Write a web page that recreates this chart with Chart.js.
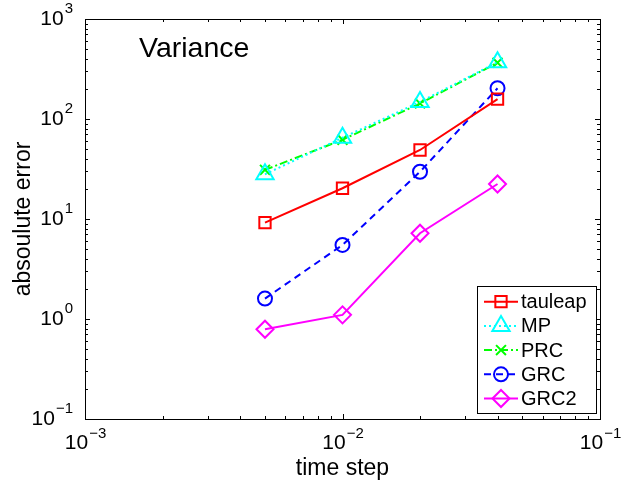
<!DOCTYPE html>
<html>
<head>
<meta charset="utf-8">
<script src="https://cdn.jsdelivr.net/npm/chart.js@4"></script>
<style>
  body { margin: 0; background: #fff; }
  canvas { display: block; }
</style>
</head>
<body>
<canvas id="chart" width="621" height="483"></canvas>
<script>
// dữ liệu
const timeSteps = [0.005, 0.01, 0.02, 0.04];
const tauleap = [9.2, 20.3, 49, 158];
const mp = [28, 65, 148, 370];
const prc = [31, 62, 143, 366];
const grc = [1.6, 5.5, 29.7, 203];
const grc2 = [0.79, 1.1, 7.2, 22.4];

const xTickExp = [-3, -2, -1];
const yTickExp = [-1, 0, 1, 2, 3];

const font = '"Liberation Sans", Arial, Helvetica, sans-serif';

function points(values) {
    return timeSteps.map((t, i) => ({ x: t, y: values[i] }));
}

function series(label, values, color, dash, marker, radius) {
    return {
        label: label,
        data: points(values),
        borderColor: color,
        backgroundColor: 'rgba(0,0,0,0)',
        borderWidth: 2,
        borderDash: dash,
        pointStyle: marker,
        pointRadius: radius,
        pointHoverRadius: radius,
        pointBorderColor: color,
        pointBorderWidth: 2,
        showLine: true,
        tension: 0
    };
}

const datasets = [
    series('tauleap', tauleap, '#ff0000', [], 'rect', 8),
    series('MP', mp, '#00ffff', [2, 3], 'triangle', 10),
    series('PRC', prc, '#00ff00', [8, 3, 2, 3], 'crossRot', 7),
    series('GRC', grc, '#0000ff', [7, 5], 'circle', 7),
    series('GRC2', grc2, '#ff00ff', [], 'rectRot', 8.5)
];

function drawPow(ctx, exp, x, y, align) {
    const e = exp < 0 ? '\u2212' + (-exp) : String(exp);
    ctx.font = '21px ' + font;
    const wb = ctx.measureText('10').width;
    ctx.font = '15px ' + font;
    const we = ctx.measureText(e).width;
    let start = align === 'center' ? x - (wb + we) / 2 : x - wb - we;
    ctx.textBaseline = 'middle';
    ctx.textAlign = 'left';
    ctx.font = '21px ' + font;
    ctx.fillText('10', start, y);
    ctx.font = '15px ' + font;
    ctx.fillText(e, start + wb + 1, y - 10);
}

const axesPlugin = {
    id: 'matlabAxes',
    afterDraw(chart) {
        const ctx = chart.ctx;
        const a = chart.chartArea;
        const xs = chart.scales.x;
        const ys = chart.scales.y;
        ctx.save();
        ctx.strokeStyle = '#000';
        ctx.fillStyle = '#000';
        ctx.lineWidth = 1;
        ctx.setLineDash([]);
        ctx.strokeRect(a.left + 0.5, a.top + 0.5, a.right - a.left, a.bottom - a.top);

        // vạch chia
        ctx.beginPath();
        for (let d = -3; d <= -1; d++) {
            for (let m = 1; m <= 9; m++) {
                const v = m * Math.pow(10, d);
                if (v > 0.1 + 1e-9) continue;
                const px = Math.round(xs.getPixelForValue(v)) + 0.5;
                const len = m === 1 ? 5 : 3;
                ctx.moveTo(px, a.bottom);
                ctx.lineTo(px, a.bottom - len);
                ctx.moveTo(px, a.top);
                ctx.lineTo(px, a.top + len);
            }
        }
        for (let d = -1; d <= 3; d++) {
            for (let m = 1; m <= 9; m++) {
                const v = m * Math.pow(10, d);
                if (v > 1000 + 1e-9) continue;
                const py = Math.round(ys.getPixelForValue(v)) + 0.5;
                const len = m === 1 ? 5 : 3;
                ctx.moveTo(a.left, py);
                ctx.lineTo(a.left + len, py);
                ctx.moveTo(a.right, py);
                ctx.lineTo(a.right - len, py);
            }
        }
        ctx.stroke();

        // nhãn trục
        xTickExp.forEach((e) => {
            drawPow(ctx, e, xs.getPixelForValue(Math.pow(10, e)), a.bottom + 24.5, 'center');
        });
        yTickExp.forEach((e) => {
            drawPow(ctx, e, a.left - 13, ys.getPixelForValue(Math.pow(10, e)), 'right');
        });

        ctx.font = '23px ' + font;
        ctx.textAlign = 'center';
        ctx.textBaseline = 'alphabetic';
        ctx.fillText('time step', 342.5, 475);
        ctx.save();
        ctx.translate(30, 219);
        ctx.rotate(-Math.PI / 2);
        ctx.fillText('absoulute error', 0, 0);
        ctx.restore();

        ctx.font = '28.5px ' + font;
        ctx.textAlign = 'left';
        ctx.fillText('Variance', 139, 57);

        // chú thích
        const lx = 477, ly = 286, lw = 119, lh = 127;
        ctx.fillStyle = '#fff';
        ctx.fillRect(lx, ly, lw, lh);
        ctx.strokeStyle = '#000';
        ctx.lineWidth = 1;
        ctx.strokeRect(lx + 0.5, ly + 0.5, lw, lh);
        datasets.forEach((ds, i) => {
            const y = 301.7 + i * 24.2;
            ctx.strokeStyle = ds.borderColor;
            ctx.lineWidth = 2;
            ctx.setLineDash(ds.borderDash);
            ctx.beginPath();
            ctx.moveTo(484, y);
            ctx.lineTo(518, y);
            ctx.stroke();
            ctx.setLineDash([]);
            ctx.fillStyle = 'rgba(0,0,0,0)';
            Chart.helpers.drawPoint(ctx, {
                pointStyle: ds.pointStyle,
                radius: ds.pointRadius,
                borderWidth: 2
            }, 501, y);
            ctx.fillStyle = '#000';
            ctx.font = '20px ' + font;
            ctx.textBaseline = 'middle';
            ctx.fillText(ds.label, 521, y + 1);
        });
        ctx.restore();
    }
};

new Chart(document.getElementById('chart'), {
    type: 'scatter',
    data: { datasets: datasets },
    options: {
        responsive: false,
        animation: false,
        layout: { padding: { left: 85, right: 21, top: 19, bottom: 64 } },
        plugins: { legend: { display: false }, tooltip: { enabled: false } },
        scales: {
            x: { type: 'logarithmic', min: 0.001, max: 0.1, display: false },
            y: { type: 'logarithmic', min: 0.1, max: 1000, display: false }
        }
    },
    plugins: [axesPlugin]
});
</script>
</body>
</html>
